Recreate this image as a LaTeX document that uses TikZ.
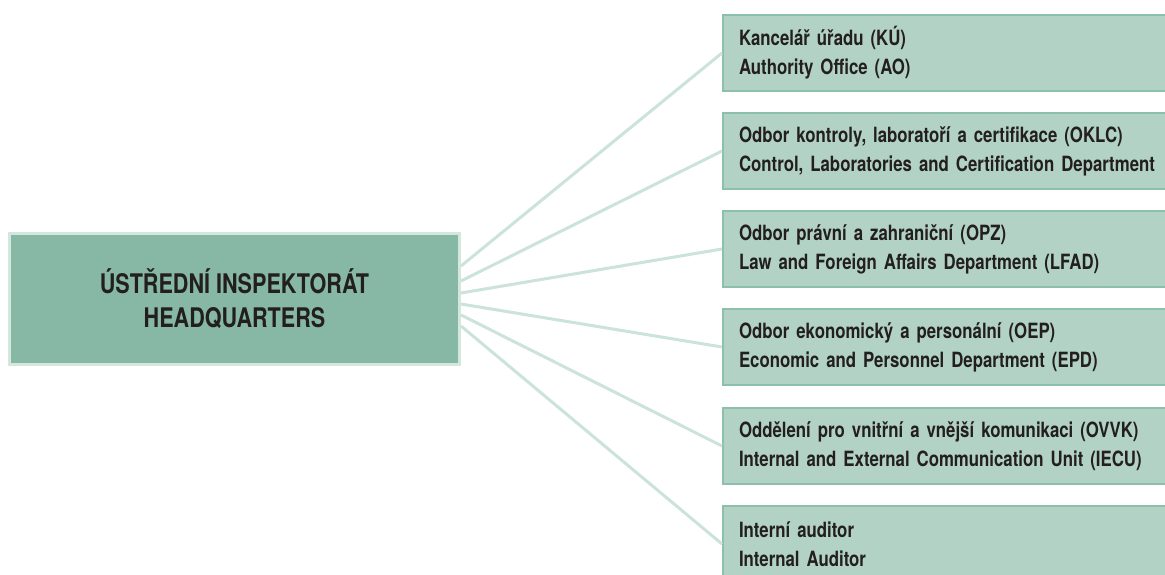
\documentclass[tikz,border=0pt]{standalone}
\usepackage{fontspec}
\setmainfont{TeX Gyre Heros}[FakeStretch=0.8]
\usetikzlibrary{positioning}

\definecolor{hqfill}{HTML}{86B8A5}
\definecolor{hqedge}{HTML}{D3E7DF}
\definecolor{unitfill}{HTML}{B2D2C5}
\definecolor{unitedge}{HTML}{8CBFAC}
\definecolor{linkline}{HTML}{CBE3D9}
\definecolor{inktext}{HTML}{231F20}

\tikzset{
  hqbox/.style={draw=hqedge, fill=hqfill, line width=3pt, minimum width=450pt,
    minimum height=131pt, align=center, text=inktext,
    font=\fontsize{27}{34}\selectfont\bfseries},
  unitbox/.style={draw=unitedge, fill=unitfill, line width=2pt, anchor=north west,
    minimum width=460pt, minimum height=76pt, text width=430pt, inner xsep=16pt,
    align=left, text=inktext, font=\fontsize{21}{29}\selectfont\bfseries},
  link/.style={draw=linkline, line width=3pt}
}

\begin{document}
\begin{tikzpicture}[x=1pt, y=-1pt]
  \useasboundingbox (0,0) rectangle (1165,575);
  \clip (0,0) rectangle (1165,575);

  % === HEADQUARTERS ===
  \node[hqbox] (hq) at (234.5,299) {ÚSTŘEDNÍ INSPEKTORÁT\\HEADQUARTERS};

  % === UNITS ===
  \node[unitbox] (ku)   at (722,14)  {Kancelář úřadu (KÚ)\\Authority Office (AO)};
  \node[unitbox] (oklc) at (722,112) {Odbor kontroly, laboratoří a certifikace (OKLC)\\Control, Laboratories and Certification Department};
  \node[unitbox] (opz)  at (722,210) {Odbor právní a zahraniční (OPZ)\\Law and Foreign Affairs Department (LFAD)};
  \node[unitbox] (oep)  at (722,308) {Odbor ekonomický a personální (OEP)\\Economic and Personnel Department (EPD)};
  \node[unitbox] (ovvk) at (722,407) {Oddělení pro vnitřní a vnější komunikaci (OVVK)\\Internal and External Communication Unit (IECU)};
  \node[unitbox] (ia)   at (722,505) {Interní auditor\\Internal Auditor};

  % Connectors
  \draw[link] ([yshift=33pt]hq.east) -- (ku.west);
  \draw[link] ([yshift=18pt]hq.east) -- (oklc.west);
  \draw[link] ([yshift=6pt]hq.east) -- (opz.west);
  \draw[link] ([yshift=-5pt]hq.east) -- (oep.west);
  \draw[link] ([yshift=-16pt]hq.east) -- (ovvk.west);
  \draw[link] ([yshift=-27pt]hq.east) -- (ia.west);

\end{tikzpicture}
\end{document}
